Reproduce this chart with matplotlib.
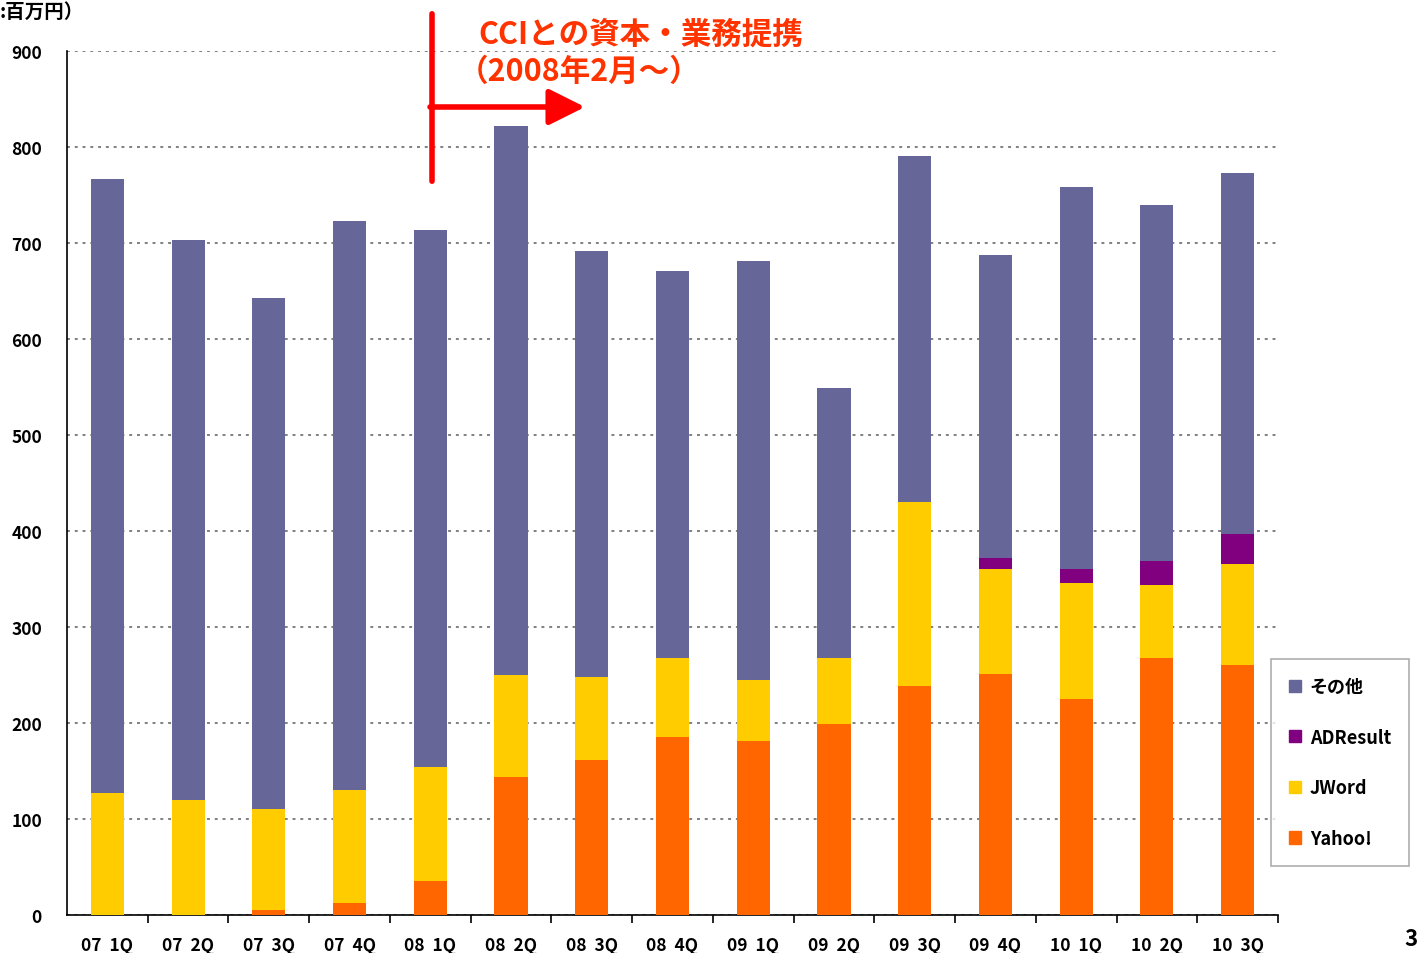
import numpy as np
import matplotlib.pyplot as plt
from matplotlib.patches import Patch

plt.rcParams['font.family'] = ['Noto Sans CJK JP', 'DejaVu Sans']
plt.rcParams['font.weight'] = 'bold'

# quarters and stacked values (million yen)
quarters = ['07  1Q', '07  2Q', '07  3Q', '07  4Q', '08  1Q', '08  2Q', '08  3Q', '08  4Q',
            '09  1Q', '09  2Q', '09  3Q', '09  4Q', '10  1Q', '10  2Q', '10  3Q']
yahoo = [0, 0, 5, 13, 35, 144, 161, 185, 181, 199, 239, 251, 225, 268, 260]
jword = [127, 120, 105, 117, 119, 106, 87, 83, 64, 69, 191, 109, 121, 76, 106]
adresult = [0, 0, 0, 0, 0, 0, 0, 0, 0, 0, 0, 12, 14, 25, 31]
other = [640, 583, 533, 593, 560, 572, 444, 403, 436, 281, 361, 316, 398, 371, 376]

series_names = ['Yahoo!', 'JWord', 'ADResult', 'その他']
series_colors = ['#FF6600', '#FFCC00', '#800080', '#666699']

fig = plt.figure(figsize=(14.19, 9.54), dpi=100)
ax = fig.add_axes([67 / 1419, 1 - 916 / 954, (1278 - 67) / 1419, (916 - 52) / 954])

x = np.arange(len(quarters))
bottom = np.zeros(len(quarters))
for vals, name, col in zip([yahoo, jword, adresult, other], series_names, series_colors):
    vals = np.array(vals, dtype=float)
    ax.bar(x, vals, width=0.41, bottom=bottom, color=col, label=name, zorder=3)
    bottom += vals

ax.set_xlim(-0.5, len(quarters) - 0.5)
ax.set_ylim(0, 900)
ax.set_yticks(range(0, 1000, 100))
ax.yaxis.grid(True, linestyle=(0, (1.5, 2.5)), color='#808080', linewidth=1.4, zorder=0)
ax.set_axisbelow(True)
for s in ['top', 'right']:
    ax.spines[s].set_visible(False)
ax.spines['left'].set_linewidth(1.2)
ax.spines['bottom'].set_linewidth(1.2)
ax.tick_params(axis='y', length=0, pad=18, labelsize=12.5)

ax.set_xticks(x)
ax.set_xticklabels(quarters, fontsize=12.5)
ax.tick_params(axis='x', length=0, pad=15)
ax.set_xticks(np.arange(0.5, len(quarters), 1.0), minor=True)
ax.tick_params(axis='x', which='minor', length=6, direction='out', width=1.2)

fig.text(0, 1 - 12 / 954, ':百万円）', fontsize=14, fontweight='bold', ha='left', va='center')
fig.text(1418 / 1419, 1 - 940 / 954, '3', fontsize=16, fontweight='bold', ha='right', va='center')

# CCI annotation
ax.annotate('', xy=(432, 954 - 185), xytext=(432, 954 - 12), xycoords='figure pixels',
            arrowprops=dict(arrowstyle='-', lw=4, color='#FF0000'))
ax.annotate('', xy=(585, 954 - 108), xytext=(430, 954 - 108), xycoords='figure pixels',
            arrowprops=dict(arrowstyle='-|>,head_length=1.0,head_width=0.5', lw=4,
                            color='#FF0000', mutation_scale=22, shrinkA=0, shrinkB=0))
fig.text(478 / 1419, 1 - 35 / 954, 'CCIとの資本・業務提携', fontsize=22, fontweight='bold',
         color='#FF3300', ha='left', va='center')
fig.text(458 / 1419, 1 - 72 / 954, '（2008年2月～）', fontsize=22, fontweight='bold',
         color='#FF3300', ha='left', va='center')

handles = [Patch(color=c) for c in series_colors[::-1]]
leg = fig.legend(handles, series_names[::-1], loc='upper left',
                 bbox_to_anchor=(1271 / 1419, 1 - 660 / 954), fontsize=13,
                 frameon=True, fancybox=False, edgecolor='#999999',
                 handlelength=0.65, handleheight=0.65, handletextpad=0.5,
                 labelspacing=1.75, borderpad=1.0, borderaxespad=0)
leg.get_frame().set_linewidth(1.2)

fig.savefig('out.png', dpi=100)
